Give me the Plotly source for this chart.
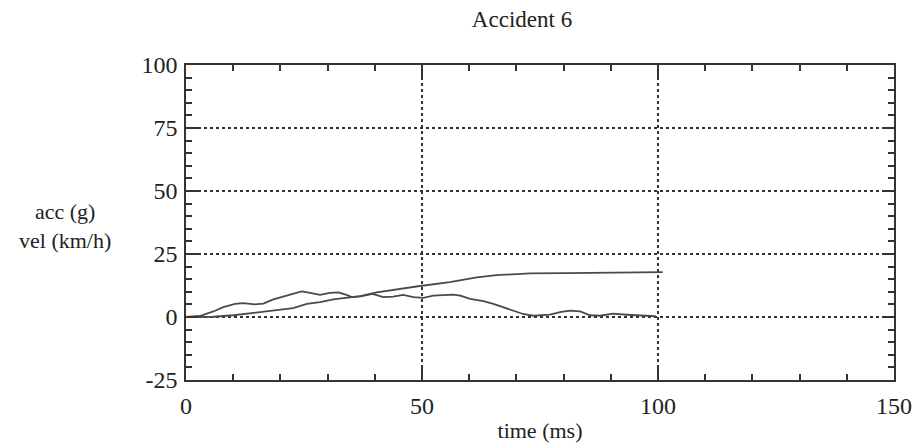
import plotly.graph_objects as go

# ---- data ----
time_acc = [0, 2.9, 5.8, 7.9, 10.4, 12.1, 14.6, 16.4, 18.5, 20.6, 22.7, 24.5, 26.3, 28.4,
            30.5, 32.3, 34.0, 35.1, 37.0, 39.5, 41.8, 43.9, 46.0, 48.2, 50.3, 52.4, 56.6,
            58.1, 60.2, 63.0, 65.1, 67.2, 69.3, 71.4, 73.6, 77.1, 79.5, 81.4, 83.5, 85.6,
            87.7, 90.5, 93.4, 96.2, 99.5]
acc = [0, 0.4, 2.2, 3.9, 5.2, 5.5, 5.0, 5.3, 7.0, 8.1, 9.1, 10.2, 9.6, 8.8,
       9.6, 9.8, 8.8, 7.9, 8.2, 9.2, 7.9, 8.1, 8.8, 7.9, 7.6, 8.5, 8.9,
       8.5, 7.2, 6.3, 5.2, 3.9, 2.6, 1.2, 0.5, 0.9, 2.0, 2.5, 2.2, 0.7,
       0.5, 1.3, 0.9, 0.5, 0.3]

time_vel = [0, 5.8, 10, 14.3, 19.2, 22.7, 25.6, 28.4, 31.2, 34, 36.9, 40.4, 46, 49.2,
            55.9, 61.6, 65.8, 72.9, 80.6, 89.8, 96, 101]
vel = [0, 0.1, 0.7, 1.6, 2.6, 3.5, 5.2, 5.9, 7.0, 7.6, 8.3, 9.8, 11.4, 12.2,
       13.8, 15.7, 16.6, 17.3, 17.4, 17.7, 17.8, 17.8]

x_ticks = [0, 50, 100, 150]
y_ticks = [-25, 0, 25, 50, 75, 100]

title_text = "Accident 6"
x_title = "time (ms)"
y_title = "acc (g)<br>vel (km/h)"

FONT = "Liberation Serif"
LINE = "#4a4a4a"
TXT = "#222"

fig = go.Figure()
fig.add_trace(go.Scatter(x=time_vel, y=vel, mode="lines",
                         line=dict(color=LINE, width=1.8), showlegend=False))
fig.add_trace(go.Scatter(x=time_acc, y=acc, mode="lines",
                         line=dict(color=LINE, width=1.8), showlegend=False))

axis_common = dict(
    showline=True, linecolor="#333", linewidth=1.5, mirror="ticks",
    ticks="inside", ticklen=12, tickcolor="#333", tickwidth=1.5,
    showgrid=True, gridcolor="#333", gridwidth=1.5, griddash="dot",
    zeroline=False, automargin=False,
    tickfont=dict(family=FONT, size=24, color=TXT),
)

fig.update_xaxes(range=[0, 150], tickvals=x_ticks, ticktext=[str(v) for v in x_ticks],
                 ticklabelstandoff=3,
                 minor=dict(dtick=10, ticks="inside", ticklen=6, tickcolor="#333", tickwidth=1.5,
                            showgrid=False),
                 title=dict(text=x_title, font=dict(family=FONT, size=22, color=TXT), standoff=5),
                 **axis_common)
fig.update_yaxes(range=[-25, 100], tickvals=y_ticks, ticktext=[str(v) for v in y_ticks],
                 ticklabelstandoff=2,
                 minor=dict(dtick=5, ticks="inside", ticklen=6, tickcolor="#333", tickwidth=1.5,
                            showgrid=False),
                 **axis_common)

fig.add_annotation(text=y_title, xref="paper", yref="paper", x=-0.171, y=0.489,
                   showarrow=False, align="center", xanchor="center", yanchor="middle",
                   font=dict(family=FONT, size=22, color=TXT))

fig.update_layout(
    width=921, height=444,
    margin=dict(l=186, r=27, t=65, b=64),
    paper_bgcolor="white", plot_bgcolor="white",
    title=dict(text=title_text, x=522 / 921, xanchor="center", y=1 - 19 / 444, yanchor="middle",
               font=dict(family=FONT, size=23, color=TXT)),
)

fig.write_html("out.html")
